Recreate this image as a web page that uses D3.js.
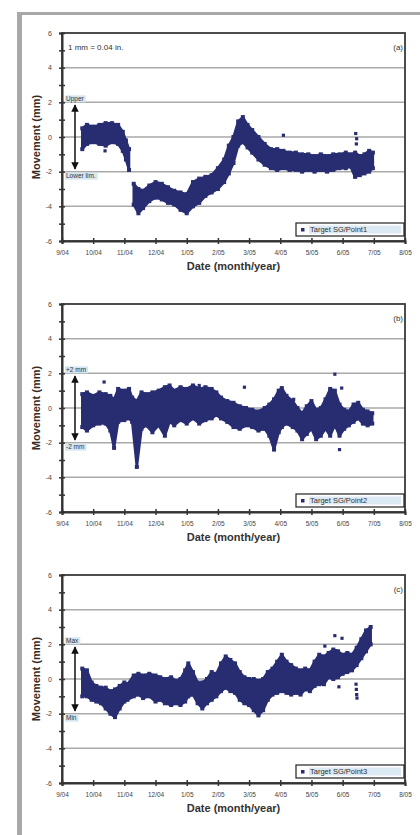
<!DOCTYPE html>
<html>
<head>
<meta charset="utf-8">
<script src="https://cdn.jsdelivr.net/npm/d3@7"></script>
<style>
  body { margin: 0; background: #fff; }
  svg { display: block; font-family: "Liberation Sans", Arial, sans-serif; }
</style>
</head>
<body>
<svg id="fig" width="420" height="835"></svg>
<script>
// month index 0 = 9/04
const months = ['9/04', '10/04', '11/04', '12/04', '1/05', '2/05', '3/05', '4/05', '5/05', '6/05', '7/05', '8/05'];
const yTicks = [-6, -5, -4, -3, -2, -1, 0, 1, 2, 3, 4, 5, 6];
const gridVals = [-4, -2, 0, 2, 4];

// [month, low, high] envelope of the dense readings, null = gap in record
const bandA = [[0.65,-0.7,0.5],[0.8,-0.4,0.7],[1.0,-0.3,0.6],[1.2,-0.4,0.7],[1.4,-0.5,0.8],[1.6,-0.3,0.8],[1.8,-0.4,0.7],[1.95,-0.8,0.3],[2.05,-1.3,-0.2],[2.15,-1.9,-0.7],
  null,
  [2.3,-3.9,-2.7],[2.45,-4.4,-3.0],[2.6,-4.1,-3.1],[2.8,-3.7,-2.8],[3.0,-3.5,-2.6],[3.2,-3.6,-2.7],[3.4,-3.8,-2.9],[3.6,-3.9,-3.1],[3.8,-4.2,-3.2],[4.0,-4.4,-3.3],
  [4.2,-4.0,-2.6],[4.4,-3.8,-2.4],[4.6,-3.4,-2.3],[4.8,-3.2,-2.2],[5.0,-3.0,-1.8],[5.2,-2.6,-1.3],[5.35,-2.1,-0.5],[5.5,-1.5,0.0],[5.65,-0.5,0.9],[5.8,-0.3,1.15],
  [5.95,-0.6,0.7],[6.1,-0.9,0.4],[6.3,-1.3,0.0],[6.5,-1.6,-0.4],[6.7,-1.8,-0.7],[6.9,-1.9,-0.7],[7.1,-1.8,-0.8],[7.3,-1.9,-0.9],[7.5,-1.9,-0.9],[7.7,-2.0,-1.0],
  [7.9,-1.9,-1.0],[8.1,-2.0,-1.1],[8.3,-1.9,-1.0],[8.5,-2.0,-1.1],[8.7,-1.9,-1.0],[8.9,-1.8,-1.0],[9.1,-1.8,-0.9],[9.25,-1.7,-1.0],[9.4,-2.3,-0.9],[9.55,-2.2,-1.1],
  [9.7,-2.1,-1.0],[9.85,-2.0,-0.8],[9.97,-1.8,-0.9]];
const pointsA = [[1.38,-0.8],[7.1,0.1],[9.42,0.2],[9.45,-0.1],[9.44,-0.4]];

const bandB = [[0.65,-1.1,0.8],[0.8,-1.3,0.9],[1.0,-1.0,0.7],[1.2,-0.9,0.9],[1.4,-0.9,0.8],[1.55,-1.3,0.7],[1.67,-2.3,0.5],[1.8,-0.8,1.1],[2.0,-0.7,1.0],[2.15,-0.6,1.1],
  [2.25,-0.8,0.6],[2.4,-3.4,0.4],[2.55,-1.2,0.9],[2.7,-1.0,0.8],[2.9,-1.4,0.9],[3.1,-1.0,1.0],[3.3,-1.6,1.2],[3.45,-0.8,1.3],[3.6,-1.0,1.0],[3.8,-0.7,1.2],
  [4.0,-0.9,1.1],[4.2,-0.6,1.3],[4.4,-0.9,1.1],[4.6,-0.7,1.2],[4.8,-0.6,1.1],[4.95,-0.4,0.9],[5.1,-0.6,0.6],[5.3,-0.8,0.4],[5.5,-1.1,0.3],[5.7,-1.2,0.1],
  [5.9,-1.0,0.0],[6.1,-1.1,-0.1],[6.3,-1.3,-0.2],[6.5,-1.2,0.0],[6.65,-1.6,0.2],[6.8,-2.4,0.5],[6.95,-1.4,1.0],[7.05,-1.1,1.15],[7.2,-0.9,0.7],[7.4,-1.1,0.4],
  [7.55,-1.3,0.0],[7.7,-1.8,-0.3],[7.85,-1.5,0.1],[8.0,-1.2,0.4],[8.15,-1.8,-0.1],[8.3,-1.6,0.0],[8.45,-1.2,0.5],[8.6,-1.6,1.1],[8.75,-1.0,1.0],[8.9,-1.6,0.2],
  [9.05,-1.2,-0.1],[9.2,-1.0,-0.2],[9.35,-0.8,0.2],[9.5,-0.6,0.3],[9.65,-0.9,-0.1],[9.8,-1.0,-0.2],[9.95,-0.9,-0.3]];
const pointsB = [[1.35,1.5],[4.4,1.3],[5.85,1.2],[7.43,0.5],[8.75,1.95],[8.97,1.15],[8.9,-2.4]];

const bandC = [[0.65,-1.0,0.6],[0.8,-1.0,0.5],[0.95,-1.2,-0.2],[1.1,-1.3,-0.4],[1.25,-1.4,-0.5],[1.4,-1.7,-0.5],[1.55,-2.0,-0.7],[1.7,-2.2,-0.6],[1.85,-1.7,-0.4],[2.0,-1.3,-0.2],
  [2.1,-1.2,-0.3],[2.3,-1.0,0.2],[2.45,-0.9,0.3],[2.6,-1.1,0.2],[2.8,-1.0,0.3],[3.0,-1.3,0.2],[3.15,-1.2,0.1],[3.3,-1.4,0.0],[3.5,-1.5,0.1],[3.65,-1.4,-0.1],
  [3.8,-1.5,0.0],[3.95,-1.3,0.5],[4.05,-1.0,0.9],[4.2,-0.9,0.4],[4.35,-1.4,-0.2],[4.5,-1.7,-0.2],[4.65,-1.4,0.0],[4.8,-1.2,0.4],[4.95,-1.0,0.3],[5.1,-0.7,0.9],
  [5.25,-0.5,1.3],[5.4,-0.7,1.1],[5.55,-0.8,0.9],[5.7,-1.2,0.4],[5.85,-1.4,0.1],[6.0,-1.5,0.0],[6.15,-1.8,0.0],[6.3,-2.1,-0.1],[6.45,-1.8,0.0],[6.6,-1.2,0.4],
  [6.75,-0.9,0.6],[6.9,-0.8,1.0],[7.05,-0.7,1.4],[7.2,-0.8,1.0],[7.35,-0.9,0.8],[7.5,-0.8,0.6],[7.65,-0.9,0.5],[7.8,-0.6,0.6],[7.95,-0.7,0.5],[8.1,-0.4,1.0],
  [8.25,-0.3,1.4],[8.4,-0.3,1.3],[8.55,0.1,1.5],[8.7,0.0,1.7],[8.85,0.1,1.6],[9.0,0.3,1.4],[9.15,0.4,1.5],[9.3,0.5,1.4],[9.45,0.8,1.8],[9.6,1.2,2.3],
  [9.75,1.6,2.8],[9.9,2.0,3.0]];
const pointsC = [[8.43,1.9],[8.75,2.5],[8.98,2.35],[8.88,-0.45],[9.43,-0.3],[9.44,-0.6],[9.45,-0.9],[9.46,-1.1]];

const panelTops = [33, 304, 575];
const panelTags = ['(a)', '(b)', '(c)'];
const upperLabels = ['Upper', '+2 mm', 'Max'];
const lowerLabels = ['Lower lim.', '-2 mm', 'Min'];
const legendLabels = ['Target SG/Point1', 'Target SG/Point2', 'Target SG/Point3'];
const bands = [bandA, bandB, bandC];
const points = [pointsA, pointsB, pointsC];

const navy = '#282d72';
const svg = d3.select('#fig');

// grey frame of the figure
svg.append('rect').attr('x', 17).attr('y', 12).attr('width', 5).attr('height', 823).attr('fill', '#a8a8a8');
svg.append('rect').attr('x', 17).attr('y', 12).attr('width', 403).attr('height', 3).attr('fill', '#a8a8a8');

const left = 62, right = 405, ph = 208;

function drawPanel(i) {
  let top = panelTops[i];
  let x = d3.scaleLinear().domain([0, 11]).range([left, right]);
  let y = d3.scaleLinear().domain([-6, 6]).range([top + ph, top]);
  let g = svg.append('g');

  g.selectAll('line.grid')
    .data(gridVals)
    .join('line')
    .attr('x1', left).attr('x2', right)
    .attr('y1', d => y(d)).attr('y2', d => y(d))
    .attr('stroke', '#a9a9a9')
    .attr('stroke-width', 1.5);

  // readings as a filled band between low and high envelope
  let area = d3.area()
    .defined(d => d !== null)
    .x(d => x(d[0]))
    .y0(d => y(d[1]))
    .y1(d => y(d[2]));
  g.append('path')
    .attr('d', area(bands[i]))
    .attr('fill', navy)
    .attr('stroke', navy)
    .attr('stroke-width', 2.5)
    .attr('stroke-linejoin', 'round');

  // markers on the envelope edges give the scatter its rough outline
  let edge = bands[i].filter(d => d !== null).flatMap(d => [[d[0], d[1]], [d[0], d[2]]]);
  g.selectAll('rect.edge')
    .data(edge)
    .join('rect')
    .attr('x', d => x(d[0]) - 2)
    .attr('y', d => y(d[1]) - 2)
    .attr('width', 4).attr('height', 4)
    .attr('fill', navy);

  g.selectAll('rect.pt')
    .data(points[i])
    .join('rect')
    .attr('x', d => x(d[0]) - 1.6)
    .attr('y', d => y(d[1]) - 1.6)
    .attr('width', 3.2).attr('height', 3.2)
    .attr('fill', navy);

  // frame
  g.append('rect').attr('x', left).attr('y', top).attr('width', right - left).attr('height', ph)
    .attr('fill', 'none').attr('stroke', '#3a3a3a').attr('stroke-width', 1.8);

  let yAxis = d3.axisLeft(y).tickValues(yTicks).tickSize(3).tickPadding(7)
    .tickFormat(d => d % 2 === 0 ? d : '');
  g.append('g').attr('transform', `translate(${left},0)`).call(yAxis)
    .call(a => a.select('.domain').attr('stroke', '#333').attr('stroke-width', 2))
    .call(a => a.selectAll('.tick line').attr('x1', -3).attr('x2', 3).attr('stroke', '#333').attr('stroke-width', 1.5))
    .call(a => a.selectAll('text').attr('fill', '#444').style('font-size', '7px'));

  let xAxis = d3.axisBottom(x).tickValues(d3.range(12)).tickSize(3).tickPadding(6)
    .tickFormat(d => months[d]);
  g.append('g').attr('transform', `translate(0,${top + ph})`).call(xAxis)
    .call(a => a.select('.domain').attr('stroke', '#333').attr('stroke-width', 2))
    .call(a => a.selectAll('.tick line').attr('y1', -3).attr('y2', 3).attr('stroke', '#333').attr('stroke-width', 1.5))
    .call(a => a.selectAll('text').attr('fill', '#444').style('font-size', '6.5px'));

  g.append('text')
    .attr('x', (left + right) / 2).attr('y', top + ph + 29)
    .attr('text-anchor', 'middle')
    .style('font-size', '11px').style('font-weight', 'bold').attr('fill', '#333')
    .text('Date (month/year)');

  g.append('text')
    .attr('transform', `translate(40,${top + ph / 2}) rotate(-90)`)
    .attr('text-anchor', 'middle')
    .style('font-size', '11px').style('font-weight', 'bold').attr('fill', '#3a2b22')
    .text('Movement (mm)');

  g.append('text')
    .attr('x', 403).attr('y', top + 17)
    .attr('text-anchor', 'end')
    .style('font-size', '8px').attr('fill', '#333')
    .text(panelTags[i]);

  if (i === 0) {
    g.append('text').attr('x', 68).attr('y', top + 17)
      .style('font-size', '8px').attr('fill', '#333')
      .text('1 mm = 0.04 in.');
  }

  // +/-2 mm range arrow
  let ax = 75;
  let defsId = 'ah' + i;
  svg.append('defs').append('marker')
    .attr('id', defsId).attr('viewBox', '0 0 10 10').attr('refX', 9).attr('refY', 5)
    .attr('markerWidth', 5).attr('markerHeight', 5).attr('orient', 'auto-start-reverse')
    .append('path').attr('d', 'M0,0L10,5L0,10z').attr('fill', '#111');
  g.append('line')
    .attr('x1', ax).attr('x2', ax).attr('y1', y(1.85)).attr('y2', y(-1.85))
    .attr('stroke', '#111').attr('stroke-width', 1.5)
    .attr('marker-start', `url(#${defsId})`).attr('marker-end', `url(#${defsId})`);

  [[upperLabels[i], y(2) - 7], [lowerLabels[i], y(-2) + 1]].forEach(([t, yy]) => {
    let lbl = g.append('g');
    let txt = lbl.append('text').attr('x', 66).attr('y', yy + 5.5)
      .style('font-size', '6.5px').attr('fill', '#333').text(t);
    let w = txt.node().getComputedTextLength();
    lbl.insert('rect', 'text').attr('x', 65).attr('y', yy).attr('width', w + 3).attr('height', 7)
      .attr('fill', '#d6e6f0');
  });

  // legend
  let lg = g.append('g');
  lg.append('rect').attr('x', 296).attr('y', top + ph - 18).attr('width', 108).attr('height', 13)
    .attr('fill', '#fff').attr('stroke', '#222').attr('stroke-width', 1.2);
  lg.append('rect').attr('x', 301).attr('y', top + ph - 13).attr('width', 3.5).attr('height', 3.5).attr('fill', navy);
  lg.append('rect').attr('x', 309).attr('y', top + ph - 15.5).attr('width', 92).attr('height', 8).attr('fill', '#dce8f2');
  lg.append('text').attr('x', 310).attr('y', top + ph - 9)
    .style('font-size', '7.5px').attr('fill', '#333')
    .text(legendLabels[i]);
}

[0, 1, 2].forEach(drawPanel);
</script>
</body>
</html>
